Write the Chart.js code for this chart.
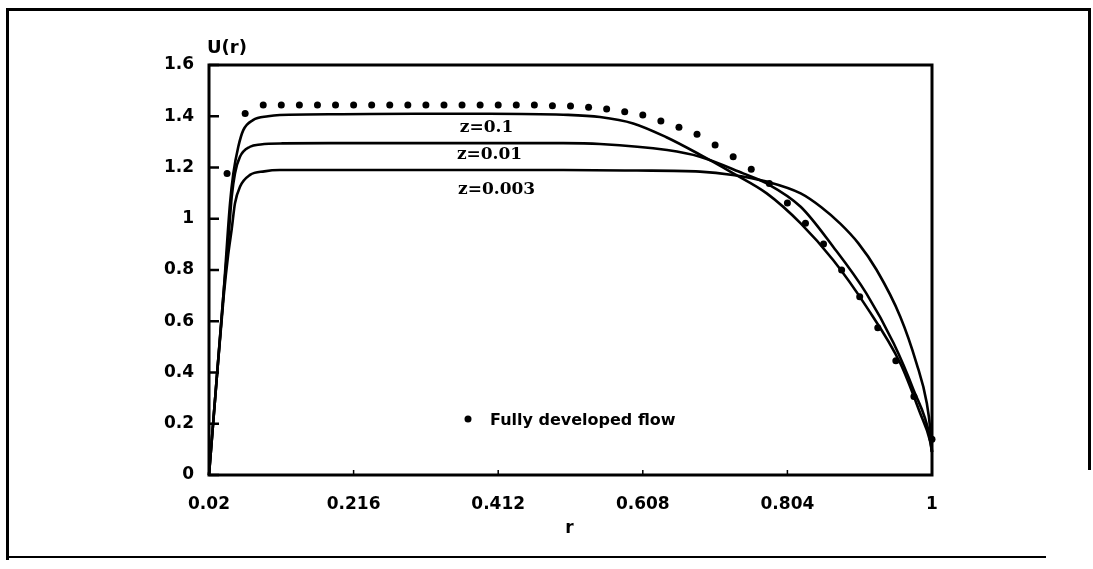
<!DOCTYPE html>
<html>
<head>
<meta charset="utf-8">
<title>U(r)</title>
<script src="https://cdn.jsdelivr.net/npm/chart.js@4.4.1/dist/chart.umd.min.js"></script>
<style>
    body { margin: 0; background: #fff; }
    #wrap { position: relative; width: 1093px; height: 569px; overflow: hidden; }
    .rule { position: absolute; background: #000; }
    canvas { position: absolute; left: 0; top: 0; }
</style>
</head>
<body>
<div id="wrap">
    <div class="rule" style="left:6px; top:8px; width:3px; height:552px;"></div>
    <div class="rule" style="left:6px; top:8px; width:1085px; height:3px;"></div>
    <div class="rule" style="left:1088px; top:8px; width:3px; height:462px;"></div>
    <div class="rule" style="left:6px; top:556px; width:1040px; height:2px;"></div>
    <canvas id="myChart" width="1093" height="569"></canvas>
</div>
<script>
// axis ticks
const xTicks = [0.02, 0.216, 0.412, 0.608, 0.804, 1];
const xTickLabels = ['0.02', '0.216', '0.412', '0.608', '0.804', '1'];
const yTickLabels = ['0', '0.2', '0.4', '0.6', '0.8', '1', '1.2', '1.4', '1.6'];

// fully developed flow (dots)
const flowR = [0.0445, 0.069, 0.0935, 0.118, 0.1425, 0.167, 0.1915, 0.216, 0.2405, 0.265,
    0.2895, 0.314, 0.3385, 0.363, 0.3875, 0.412, 0.4365, 0.461, 0.4855, 0.51,
    0.5345, 0.559, 0.5835, 0.608, 0.6325, 0.657, 0.6815, 0.706, 0.7305, 0.755,
    0.7795, 0.804, 0.8285, 0.853, 0.8775, 0.902, 0.9265, 0.951, 0.9755, 1.0];
const flowU = [1.177, 1.411, 1.444, 1.444, 1.444, 1.444, 1.444, 1.444, 1.444, 1.444,
    1.444, 1.444, 1.444, 1.444, 1.444, 1.444, 1.444, 1.444, 1.441, 1.44,
    1.435, 1.428, 1.418, 1.405, 1.381, 1.357, 1.33, 1.288, 1.242, 1.193,
    1.138, 1.061, 0.982, 0.901, 0.8, 0.696, 0.575, 0.446, 0.306, 0.14];

// z = 0.1
const rZ1 = [0.02, 0.03, 0.04, 0.0485, 0.053, 0.0597, 0.0665, 0.0796, 0.1, 0.116, 0.2, 0.3, 0.4, 0.5,
    0.55, 0.595, 0.64, 0.6855, 0.73, 0.776, 0.822, 0.866, 0.911, 0.957, 0.984, 0.997, 1.0];
const uZ1 = [0, 0.36, 0.72, 1.06, 1.177, 1.281, 1.346, 1.385, 1.4, 1.405, 1.408, 1.41, 1.41, 1.406,
    1.397, 1.372, 1.318, 1.25, 1.178, 1.099, 0.982, 0.839, 0.657, 0.436, 0.241, 0.137, 0.09];

// z = 0.01
const rZ01 = [0.02, 0.03, 0.04, 0.0465, 0.0508, 0.0552, 0.062, 0.0756, 0.09, 0.12, 0.2, 0.3, 0.4, 0.5,
    0.55, 0.641, 0.6855, 0.744, 0.776, 0.822, 0.866, 0.911, 0.948, 0.975, 0.997, 1.0];
const uZ01 = [0, 0.36, 0.72, 0.93, 1.086, 1.177, 1.242, 1.281, 1.29, 1.294, 1.295, 1.295, 1.295, 1.295,
    1.292, 1.268, 1.242, 1.177, 1.138, 1.047, 0.891, 0.709, 0.514, 0.332, 0.15, 0.09];

// z = 0.003
const rZ003 = [0.02, 0.03, 0.04, 0.046, 0.0508, 0.0552, 0.062, 0.0756, 0.095, 0.116, 0.2, 0.3, 0.4, 0.5,
    0.6, 0.6855, 0.73, 0.776, 0.822, 0.85, 0.876, 0.9, 0.925, 0.957, 0.979, 0.993, 0.998, 1.0];
const uZ003 = [0, 0.36, 0.70, 0.86, 0.96, 1.06, 1.125, 1.171, 1.185, 1.19, 1.19, 1.19, 1.19, 1.19,
    1.188, 1.184, 1.171, 1.145, 1.099, 1.045, 0.98, 0.905, 0.80, 0.618, 0.436, 0.28, 0.17, 0.09];

const sansBold = 'bold 17px "DejaVu Sans"';
const serifBold = 'bold 17px "DejaVu Serif"';

function toPoints(rs, us) {
    return rs.map((r, i) => ({ x: r, y: us[i] }));
}

function curve(label, rs, us) {
    return {
        label: label,
        data: toPoints(rs, us),
        borderColor: '#000',
        borderWidth: 2.6,
        pointRadius: 0,
        cubicInterpolationMode: 'monotone',
        fill: false,
        clip: false
    };
}

// where each curve name is written (r, U)
const curveTags = { 'z=0.1': [0.36, 1.354], 'z=0.01': [0.356, 1.249], 'z=0.003': [0.3575, 1.112] };

function line(ctx, x1, y1, x2, y2) {
    ctx.beginPath();
    ctx.moveTo(x1, y1);
    ctx.lineTo(x2, y2);
    ctx.stroke();
}

const plotDecor = {
    id: 'plotDecor',
    afterDraw(chart) {
        const ctx = chart.ctx;
        const a = chart.chartArea;
        const x = chart.scales.x;
        const y = chart.scales.y;
        ctx.save();
        ctx.strokeStyle = '#000';
        ctx.fillStyle = '#000';

        // box round the plot
        ctx.lineWidth = 3;
        ctx.strokeRect(a.left, a.top, a.right - a.left, a.bottom - a.top);

        // ticks point inward
        ctx.lineWidth = 2.5;
        y.ticks.forEach(t => {
            const py = y.getPixelForValue(t.value);
            line(ctx, a.left, py, a.left + 10, py);
        });
        ctx.lineWidth = 1.5;
        x.ticks.forEach(t => {
            const px = x.getPixelForValue(t.value);
            line(ctx, px, a.bottom, px, a.bottom - 5);
        });

        // axis titles
        ctx.font = 'bold 18px "DejaVu Sans"';
        ctx.textAlign = 'left';
        ctx.textBaseline = 'alphabetic';
        ctx.fillText('U(r)', a.left - 2, a.top - 12);
        ctx.font = sansBold;
        ctx.textAlign = 'center';
        ctx.fillText('r', (a.left + a.right) / 2 - 1, a.bottom + 58);

        // curve names
        ctx.font = serifBold;
        ctx.textAlign = 'left';
        ctx.textBaseline = 'middle';
        chart.data.datasets.forEach(ds => {
            const tag = curveTags[ds.label];
            if (tag) {
                ctx.fillText(ds.label, x.getPixelForValue(tag[0]), y.getPixelForValue(tag[1]));
            }
        });

        // legend for the dots
        const dots = chart.data.datasets[0];
        ctx.beginPath();
        ctx.arc(468, 419, 3.5, 0, Math.PI * 2);
        ctx.fill();
        ctx.font = 'bold 16px "DejaVu Sans"';
        ctx.fillText(dots.label, 490, 421);
        ctx.restore();
    }
};

const ctx = document.getElementById('myChart');
const myChart = new Chart(ctx, {
    type: 'line',
    data: {
        datasets: [
            {
                label: 'Fully developed flow',
                data: toPoints(flowR, flowU),
                showLine: false,
                pointRadius: 3.5,
                pointBackgroundColor: '#000',
                pointBorderWidth: 0,
                clip: false
            },
            curve('z=0.1', rZ1, uZ1),
            curve('z=0.01', rZ01, uZ01),
            curve('z=0.003', rZ003, uZ003)
        ]
    },
    options: {
        responsive: false,
        animation: false,
        devicePixelRatio: 1,
        layout: { padding: { left: 0, top: 65, right: 161, bottom: 0 } },
        plugins: { legend: { display: false }, tooltip: { enabled: false } },
        scales: {
            x: {
                type: 'linear',
                min: 0.02,
                max: 1,
                grid: { display: false },
                border: { display: false },
                afterBuildTicks: axis => { axis.ticks = xTicks.map(v => ({ value: v })); },
                afterFit: axis => { axis.height = 94; },
                ticks: {
                    autoSkip: false,
                    maxRotation: 0,
                    padding: 11,
                    color: '#000',
                    font: { family: 'DejaVu Sans', weight: 'bold', size: 17 },
                    callback: (v, i) => xTickLabels[i]
                }
            },
            y: {
                min: 0,
                max: 1.6,
                grid: { display: false },
                border: { display: false },
                afterFit: axis => { axis.width = 209; },
                ticks: {
                    stepSize: 0.2,
                    padding: 7,
                    color: '#000',
                    font: { family: 'DejaVu Sans', weight: 'bold', size: 17 },
                    callback: (v, i) => yTickLabels[i]
                }
            }
        }
    },
    plugins: [plotDecor]
});
</script>
</body>
</html>
